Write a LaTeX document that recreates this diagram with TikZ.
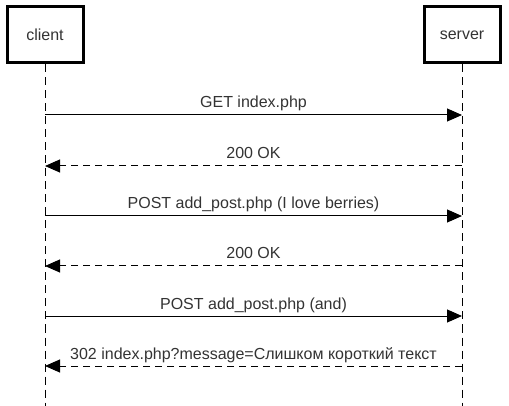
\documentclass[tikz,border=0pt]{standalone}
\usepackage{fontspec}
\setmainfont{Liberation Sans}
\usetikzlibrary{arrows.meta}
\definecolor{txt}{HTML}{333333}
\tikzset{
  actor/.style={draw=black, line width=3pt, fill=white, minimum width=76pt, minimum height=56pt, inner sep=0pt, text=txt, font=\fontsize{16}{19}\selectfont},
  lifeline/.style={line width=1pt, dash pattern=on 8pt off 5pt},
  req/.style={line width=1pt, -{Triangle[length=15pt,width=13pt]}},
  resp/.style={line width=1pt, dash pattern=on 7pt off 5pt, -{Triangle[length=15pt,width=13pt]}},
  lbl/.style={anchor=base, text=txt, inner sep=0pt, font=\fontsize{16}{19}\selectfont}
}
\begin{document}
\begin{tikzpicture}[x=1pt,y=-1pt]
\useasboundingbox (0,0) rectangle (509,406);
\node[actor] (client) at (45,35) {client};
\node[actor] (server) at (462,35) {server};
\coordinate (cend) at (45,406);
\coordinate (send) at (462,406);
\draw[lifeline] (client.south) -- (cend);
\draw[lifeline] (server.south) -- (send);
\foreach \i/\y in {1/115,2/166,3/216,4/266,5/316,6/366}{
  \coordinate (c\i) at (45,\y);
  \coordinate (s\i) at (462,\y);
}
\draw[req] (c1) -- (s1) node[lbl, pos=0.5, yshift=7pt] (m1) {GET index.php};
\draw[resp] (s2) -- (c2) node[lbl, pos=0.5, yshift=7pt] (m2) {200 OK};
\draw[req] (c3) -- (s3) node[lbl, pos=0.5, yshift=7pt] (m3) {POST add\_post.php (I love berries)};
\draw[resp] (s4) -- (c4) node[lbl, pos=0.5, yshift=7pt] (m4) {200 OK};
\draw[req] (c5) -- (s5) node[lbl, pos=0.5, yshift=7pt] (m5) {POST add\_post.php (and)};
\draw[resp] (s6) -- (c6) node[lbl, pos=0.5, yshift=7pt] (m6) {302 index.php?message=Слишком короткий текст};
\end{tikzpicture}
\end{document}
